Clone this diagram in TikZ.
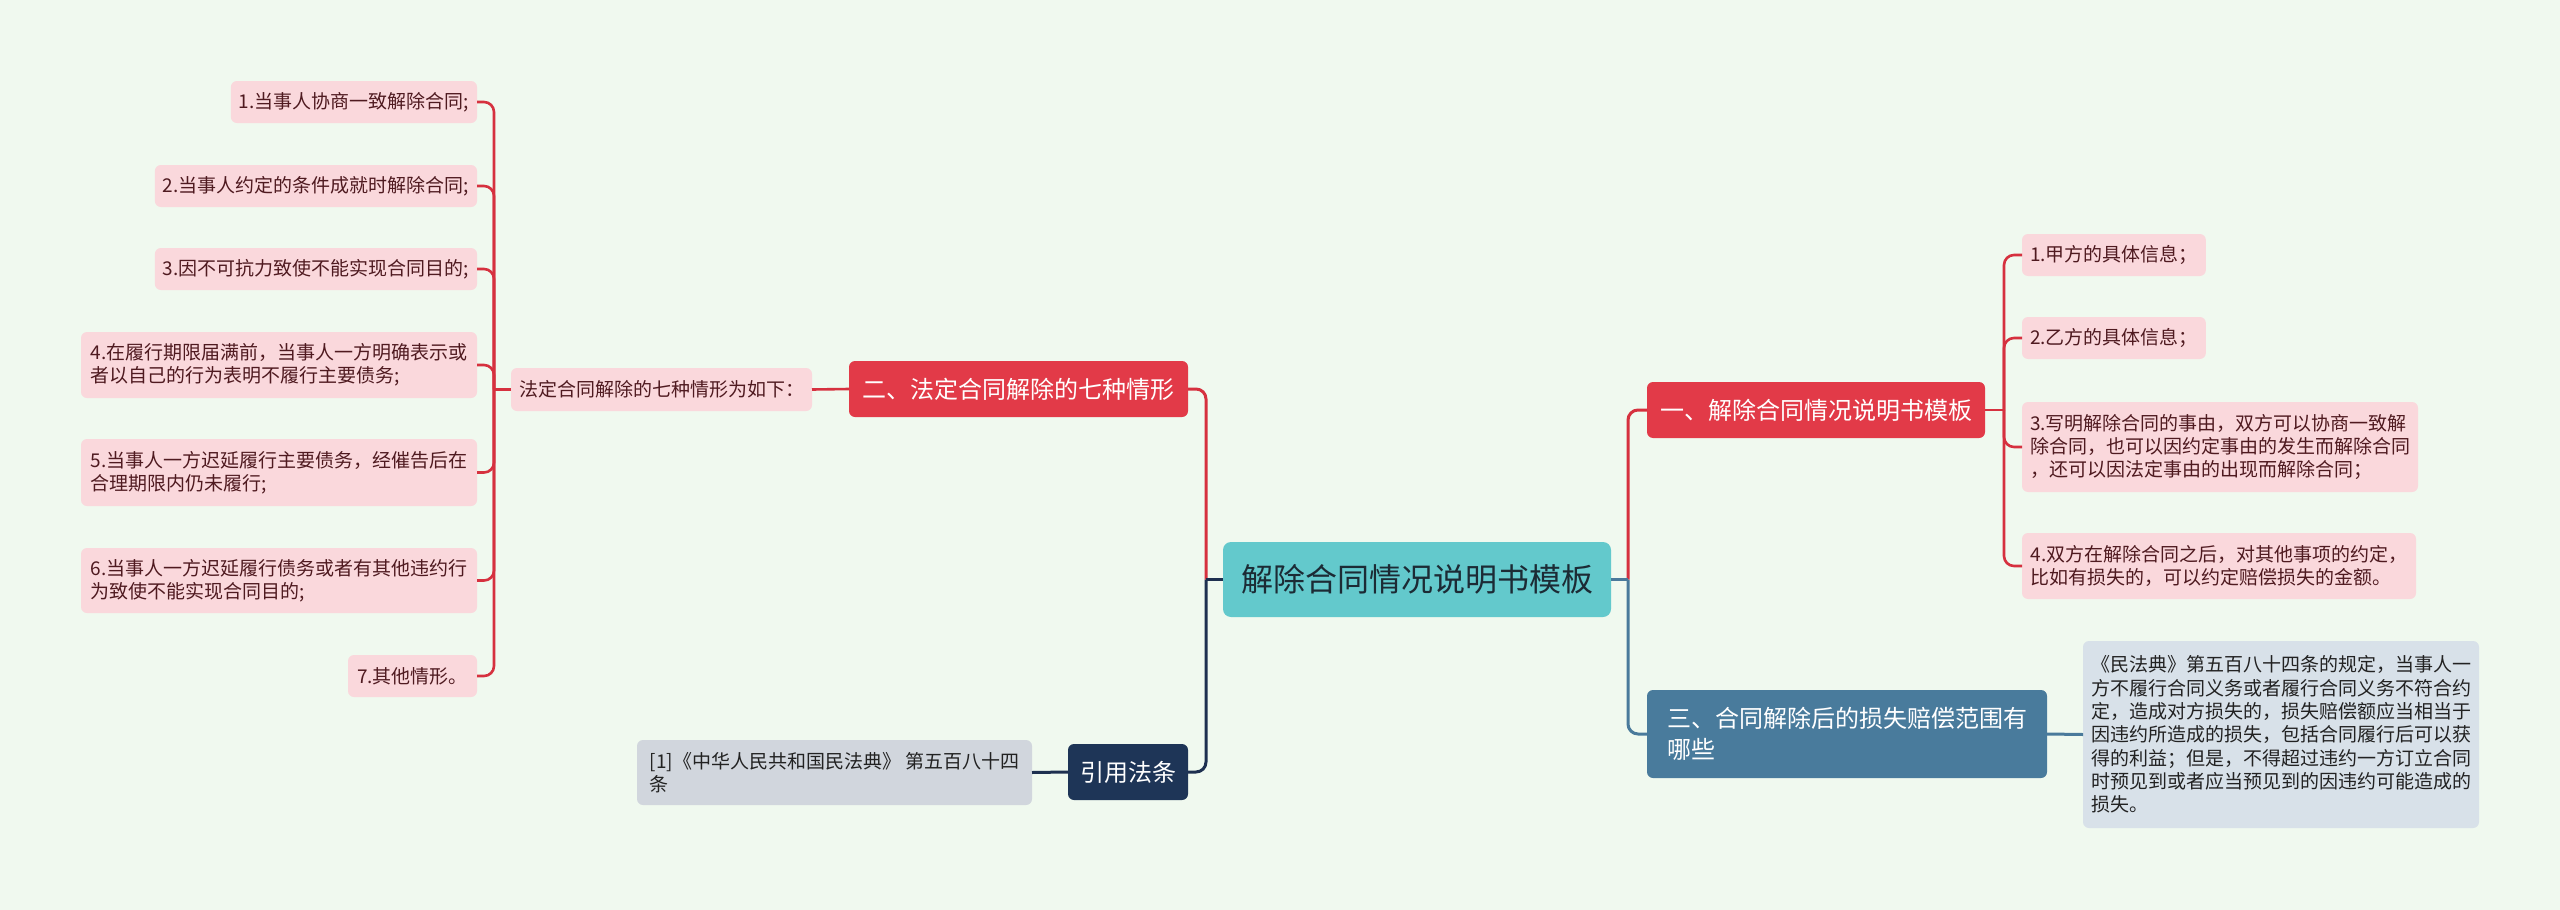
\documentclass[tikz,border=0pt]{standalone}
\usepackage{fontspec}
\setmainfont{Noto Sans CJK SC}
\definecolor{bg}{HTML}{F0F9EF}
\definecolor{rootf}{HTML}{63C9CC}
\definecolor{roott}{HTML}{1C2B35}
\definecolor{redf}{HTML}{E23A48}
\definecolor{redl}{HTML}{D6313F}
\definecolor{pinkf}{HTML}{FAD8DC}
\definecolor{pinkt}{HTML}{4F1A20}
\definecolor{bluef}{HTML}{497B9C}
\definecolor{bluel}{HTML}{4A7A9B}
\definecolor{bleaf}{HTML}{D8E1E9}
\definecolor{navyf}{HTML}{1E3557}
\definecolor{navyl}{HTML}{1E3050}
\definecolor{gleaf}{HTML}{D1D6DD}
\definecolor{darkt}{HTML}{222222}
\begin{document}
\begin{tikzpicture}[x=1pt,y=-1pt,
  base/.style={rounded corners=6pt, inner xsep=8pt, inner ysep=0pt, outer sep=0pt, align=left},
  rootn/.style={base, fill=rootf, text=roott, rounded corners=8pt, font=\fontsize{32}{38}\selectfont},
  redn/.style={base, fill=redf, text=white, font=\fontsize{24}{31}\selectfont},
  bluen/.style={base, fill=bluef, text=white, font=\fontsize{24}{31}\selectfont},
  navyn/.style={base, fill=navyf, text=white, font=\fontsize{24}{31}\selectfont},
  pleaf/.style={base, fill=pinkf, text=pinkt, font=\fontsize{19}{23.3}\selectfont},
  bleafn/.style={base, fill=bleaf, text=darkt, font=\fontsize{19}{23.3}\selectfont},
  gleafn/.style={base, fill=gleaf, text=darkt, font=\fontsize{19}{23.3}\selectfont},
  sz/.style 2 args={minimum width=#1, minimum height=#2},
  redc/.style={draw=redl, line width=3pt, rounded corners=10pt},
  redcs/.style={draw=redl, line width=2.6pt, rounded corners=10pt},
  bluec/.style={draw=bluel, line width=3pt, rounded corners=10pt},
  navyc/.style={draw=navyl, line width=3pt, rounded corners=10pt}
]
\path[fill=bg] (0,0) rectangle (2560,910);

% root
\node[rootn, sz={388pt}{75pt}, anchor=north west] (root) at (1223,542) {解除合同情况说明书模板};

% right branches
\node[redn, sz={338pt}{56pt}, anchor=north west] (b1) at (1647,382) {一、解除合同情况说明书模板};
\node[bluen, sz={400pt}{88pt}, anchor=north west] (b3) at (1647,690) {三、合同解除后的损失赔偿范围有\\哪些};

\node[pleaf, sz={183pt}{42pt}, anchor=north west] (r1) at (2022,234) {1.甲方的具体信息；};
\node[pleaf, sz={183pt}{42pt}, anchor=north west] (r2) at (2022,317) {2.乙方的具体信息；};
\node[pleaf, sz={394pt}{90pt}, anchor=north west] (r3) at (2022,402) {3.写明解除合同的事由，双方可以协商一致解\\除合同，也可以因约定事由的发生而解除合同\\，还可以因法定事由的出现而解除合同；};
\node[pleaf, sz={394pt}{66pt}, anchor=north west] (r4) at (2022,533) {4.双方在解除合同之后，对其他事项的约定，\\比如有损失的，可以约定赔偿损失的金额。};

\node[bleafn, sz={395pt}{187pt}, anchor=north west] (r5) at (2083,641) {《民法典》第五百八十四条的规定，当事人一\\方不履行合同义务或者履行合同义务不符合约\\定，造成对方损失的，损失赔偿额应当相当于\\因违约所造成的损失，包括合同履行后可以获\\得的利益；但是，不得超过违约一方订立合同\\时预见到或者应当预见到的因违约可能造成的\\损失。};

% left branches
\node[redn, sz={339pt}{56pt}, anchor=north east] (b2) at (1188,361) {二、法定合同解除的七种情形};
\node[navyn, sz={120pt}{56pt}, anchor=north east] (cite) at (1188,744) {引用法条};
\node[gleafn, sz={395pt}{65pt}, anchor=north east] (citel) at (1032,740) {[1]《中华人民共和国民法典》 第五百八十四\\条};

\node[pleaf, sz={300pt}{43pt}, anchor=north east] (f) at (812,368) {法定合同解除的七种情形为如下：};

\node[pleaf, sz={246pt}{42pt}, anchor=north east] (l1) at (477,81) {1.当事人协商一致解除合同;};
\node[pleaf, sz={321pt}{42pt}, anchor=north east] (l2) at (477,165) {2.当事人约定的条件成就时解除合同;};
\node[pleaf, sz={321pt}{42pt}, anchor=north east] (l3) at (477,248) {3.因不可抗力致使不能实现合同目的;};
\node[pleaf, sz={396pt}{66pt}, anchor=north east] (l4) at (477,332) {4.在履行期限届满前，当事人一方明确表示或\\者以自己的行为表明不履行主要债务;};
\node[pleaf, sz={396pt}{67pt}, anchor=north east] (l5) at (477,439) {5.当事人一方迟延履行主要债务，经催告后在\\合理期限内仍未履行;};
\node[pleaf, sz={396pt}{65pt}, anchor=north east] (l6) at (477,548) {6.当事人一方迟延履行债务或者有其他违约行\\为致使不能实现合同目的;};
\node[pleaf, sz={129pt}{42pt}, anchor=north east] (l7) at (477,655) {7.其他情形。};

% junctions
\coordinate (jr) at (1628,579.5);
\coordinate (jl) at (1206,579.5);
\coordinate (jr1) at (2004,410);
\coordinate (jf) at (494,389.5);

% connectors right
\draw[redc] (jr) |- (b1.west);
\draw[bluec] (jr) |- (b3.west);
\draw[bluec] (root.east) -- (jr);
\draw[redcs] (b1.east) -- (jr1);
\foreach \n in {r1,r2,r3,r4} \draw[redcs] (jr1) |- (\n.west);
\draw[bluec] (b3.east) -- (r5.west);

% connectors left
\draw[redc] (jl) |- (b2.east);
\draw[navyc] (jl) |- (cite.east);
\draw[navyc] (root.west) -- (jl);
\draw[navyc] (cite.west) -- (citel.east);
\draw[redcs] (b2.west) -- (f.east);
\draw[redcs] (f.west) -- (jf);
\foreach \n in {l1,l2,l3,l4,l5,l6,l7} \draw[redcs] (jf) |- (\n.east);
\end{tikzpicture}
\end{document}
